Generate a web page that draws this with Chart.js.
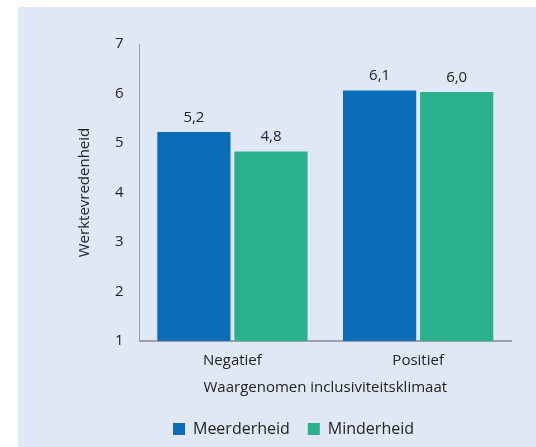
<!DOCTYPE html>
<html>
<head>
<meta charset="utf-8">
<script src="https://cdn.jsdelivr.net/npm/chart.js@4"></script>
<style>
  html, body { margin: 0; padding: 0; background: #ffffff; }
  #panel { position: absolute; left: 18px; top: 7px; width: 518px; height: 440px; background: #e1e8f5; }
</style>
</head>
<body>
<div id="panel"><canvas id="chart"></canvas></div>
<script>
const categories = ['Negatief', 'Positief'];
const meerderheid = [5.22, 6.06];
const minderheid = [4.83, 6.03];
const yTicks = [1, 2, 3, 4, 5, 6, 7];

Chart.defaults.font.family = '"Open Sans", sans-serif';
Chart.defaults.font.size = 15;
Chart.defaults.color = '#222222';

// simple value labels above the bars
const barLabels = {
    id: 'barLabels',
    afterDatasetsDraw(chart) {
        const ctx = chart.ctx;
        ctx.save();
        ctx.font = '15px "Open Sans", sans-serif';
        ctx.fillStyle = '#222222';
        ctx.textAlign = 'center';
        ctx.textBaseline = 'bottom';
        chart.data.datasets.forEach((ds, i) => {
            chart.getDatasetMeta(i).data.forEach((bar, j) => {
                ctx.fillText(ds.data[j].toFixed(1).replace('.', ','), bar.x, bar.y - 7);
            });
        });
        ctx.restore();
    }
};

const ctx = document.getElementById('chart').getContext('2d');
new Chart(ctx, {
    type: 'bar',
    data: {
        labels: categories,
        datasets: [{
            label: 'Meerderheid',
            data: meerderheid,
            backgroundColor: '#0b6db7'
        }, {
            label: 'Minderheid',
            data: minderheid,
            backgroundColor: '#2cb18f'
        }]
    },
    options: {
        responsive: true,
        maintainAspectRatio: false,
        animation: false,
        categoryPercentage: 0.83,
        barPercentage: 0.95,
        layout: { padding: { left: 58, right: 25, top: 37, bottom: 0 } },
        plugins: {
            legend: {
                position: 'bottom',
                labels: { boxWidth: 12, boxHeight: 12, padding: 18, font: { size: 16 } }
            },
            tooltip: { enabled: false }
        },
        scales: {
            x: {
                grid: { display: false, drawTicks: false },
                border: { color: '#a0a0a8', width: 2 },
                ticks: { padding: 12, font: { lineHeight: 1 } },
                title: {
                    display: true,
                    text: 'Waargenomen inclusiviteitsklimaat',
                    font: { lineHeight: 1 },
                    padding: { top: 0, bottom: 8 }
                }
            },
            y: {
                min: 1,
                max: 7,
                grid: { display: false, drawTicks: false },
                border: { color: '#a0a0a8', width: 1 },
                afterBuildTicks(scale) { scale.ticks = yTicks.map(v => ({ value: v })); },
                ticks: { padding: 16 },
                title: { display: true, text: 'Werktevredenheid', padding: { top: 0, bottom: 5 } }
            }
        }
    },
    plugins: [barLabels]
});
</script>
</body>
</html>
